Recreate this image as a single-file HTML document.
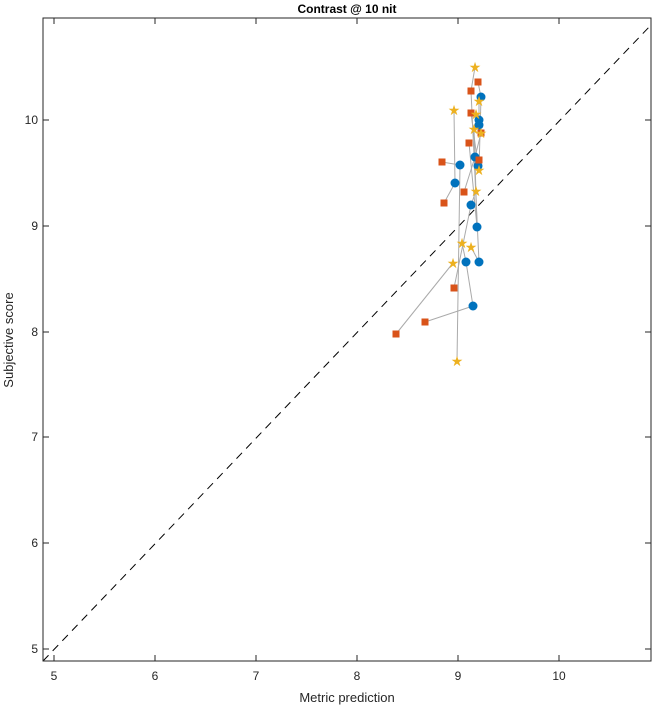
<!DOCTYPE html><html><head><style>body{margin:0;background:#fff}</style></head><body>
<svg width="656" height="708" xmlns="http://www.w3.org/2000/svg" font-family="Liberation Sans, sans-serif">
<rect width="656" height="708" fill="#fff"/>
<text x="347" y="13" font-size="12" font-weight="bold" text-anchor="middle">Contrast @ 10 nit</text>
<line x1="43" y1="661" x2="651" y2="25" stroke="#000" stroke-dasharray="8,6" stroke-width="1"/>
<g stroke="#aaa" stroke-width="1" fill="none">
<polyline points="442,162 460,165 457,361"/>
<polyline points="444,203 455,183 454,110"/>
<polyline points="396,334 453,263"/>
<polyline points="425,322 473,306 466,262 462,243"/>
<polyline points="454,288 471,205 476,191"/>
<polyline points="475,67 471,91 479,262 471,247"/>
<polyline points="478,82 481,97 479,170"/>
<polyline points="471,113 479,120 476,114"/>
<polyline points="469,143 477,227 474,129"/>
<polyline points="481,133 479,125 479,101"/>
<polyline points="464,192 475,157 481,133"/>
<polyline points="479,160 478,166 471,113"/>
</g>
<g fill="#0072bd">
<circle cx="481" cy="97" r="4.5"/><circle cx="479" cy="120" r="4.5"/><circle cx="479" cy="125" r="4.5"/><circle cx="475" cy="157" r="4.5"/><circle cx="478" cy="166" r="4.5"/><circle cx="460" cy="165" r="4.5"/><circle cx="455" cy="183" r="4.5"/><circle cx="471" cy="205" r="4.5"/><circle cx="477" cy="227" r="4.5"/><circle cx="466" cy="262" r="4.5"/><circle cx="479" cy="262" r="4.5"/><circle cx="473" cy="306" r="4.5"/>
</g>
<g fill="#d95319">
<rect x="474.5" y="78.5" width="7" height="7"/><rect x="467.5" y="87.5" width="7" height="7"/><rect x="467.5" y="109.5" width="7" height="7"/><rect x="477.5" y="129.5" width="7" height="7"/><rect x="465.5" y="139.5" width="7" height="7"/><rect x="475.5" y="156.5" width="7" height="7"/><rect x="438.5" y="158.5" width="7" height="7"/><rect x="460.5" y="188.5" width="7" height="7"/><rect x="440.5" y="199.5" width="7" height="7"/><rect x="450.5" y="284.5" width="7" height="7"/><rect x="421.5" y="318.5" width="7" height="7"/><rect x="392.5" y="330.5" width="7" height="7"/>
</g>
<g fill="#edb120" font-size="14" text-anchor="middle">
<text x="475" y="72">★</text><text x="454" y="115">★</text><text x="479" y="106">★</text><text x="476" y="119">★</text><text x="474" y="134">★</text><text x="481" y="138">★</text><text x="479" y="175">★</text><text x="476" y="196">★</text><text x="462" y="248">★</text><text x="471" y="252">★</text><text x="453" y="268">★</text><text x="457" y="366">★</text>
</g>
<rect x="43" y="18" width="608" height="643" fill="none" stroke="#262626" stroke-width="1"/>
<g stroke="#262626" stroke-width="1">
<line x1="54" y1="661" x2="54" y2="655"/><line x1="155" y1="661" x2="155" y2="655"/><line x1="256" y1="661" x2="256" y2="655"/><line x1="357" y1="661" x2="357" y2="655"/><line x1="458" y1="661" x2="458" y2="655"/><line x1="559" y1="661" x2="559" y2="655"/>
<line x1="54" y1="18" x2="54" y2="24"/><line x1="155" y1="18" x2="155" y2="24"/><line x1="256" y1="18" x2="256" y2="24"/><line x1="357" y1="18" x2="357" y2="24"/><line x1="458" y1="18" x2="458" y2="24"/><line x1="559" y1="18" x2="559" y2="24"/>
<line x1="43" y1="649" x2="49" y2="649"/><line x1="43" y1="543" x2="49" y2="543"/><line x1="43" y1="437" x2="49" y2="437"/><line x1="43" y1="332" x2="49" y2="332"/><line x1="43" y1="226" x2="49" y2="226"/><line x1="43" y1="120" x2="49" y2="120"/>
<line x1="651" y1="649" x2="645" y2="649"/><line x1="651" y1="543" x2="645" y2="543"/><line x1="651" y1="437" x2="645" y2="437"/><line x1="651" y1="332" x2="645" y2="332"/><line x1="651" y1="226" x2="645" y2="226"/><line x1="651" y1="120" x2="645" y2="120"/>
</g>
<g font-size="12" fill="#262626" text-anchor="middle">
<text x="54" y="680">5</text><text x="155" y="680">6</text><text x="256" y="680">7</text><text x="357" y="680">8</text><text x="458" y="680">9</text><text x="559" y="680">10</text>
</g>
<g font-size="12" fill="#262626" text-anchor="end">
<text x="38" y="653">5</text><text x="38" y="547">6</text><text x="38" y="441">7</text><text x="38" y="336">8</text><text x="38" y="230">9</text><text x="38" y="124">10</text>
</g>
<text x="347" y="702" font-size="13" text-anchor="middle" fill="#262626">Metric prediction</text>
<text transform="translate(13,340) rotate(-90)" font-size="13" text-anchor="middle" fill="#262626">Subjective score</text>
</svg></body></html>
